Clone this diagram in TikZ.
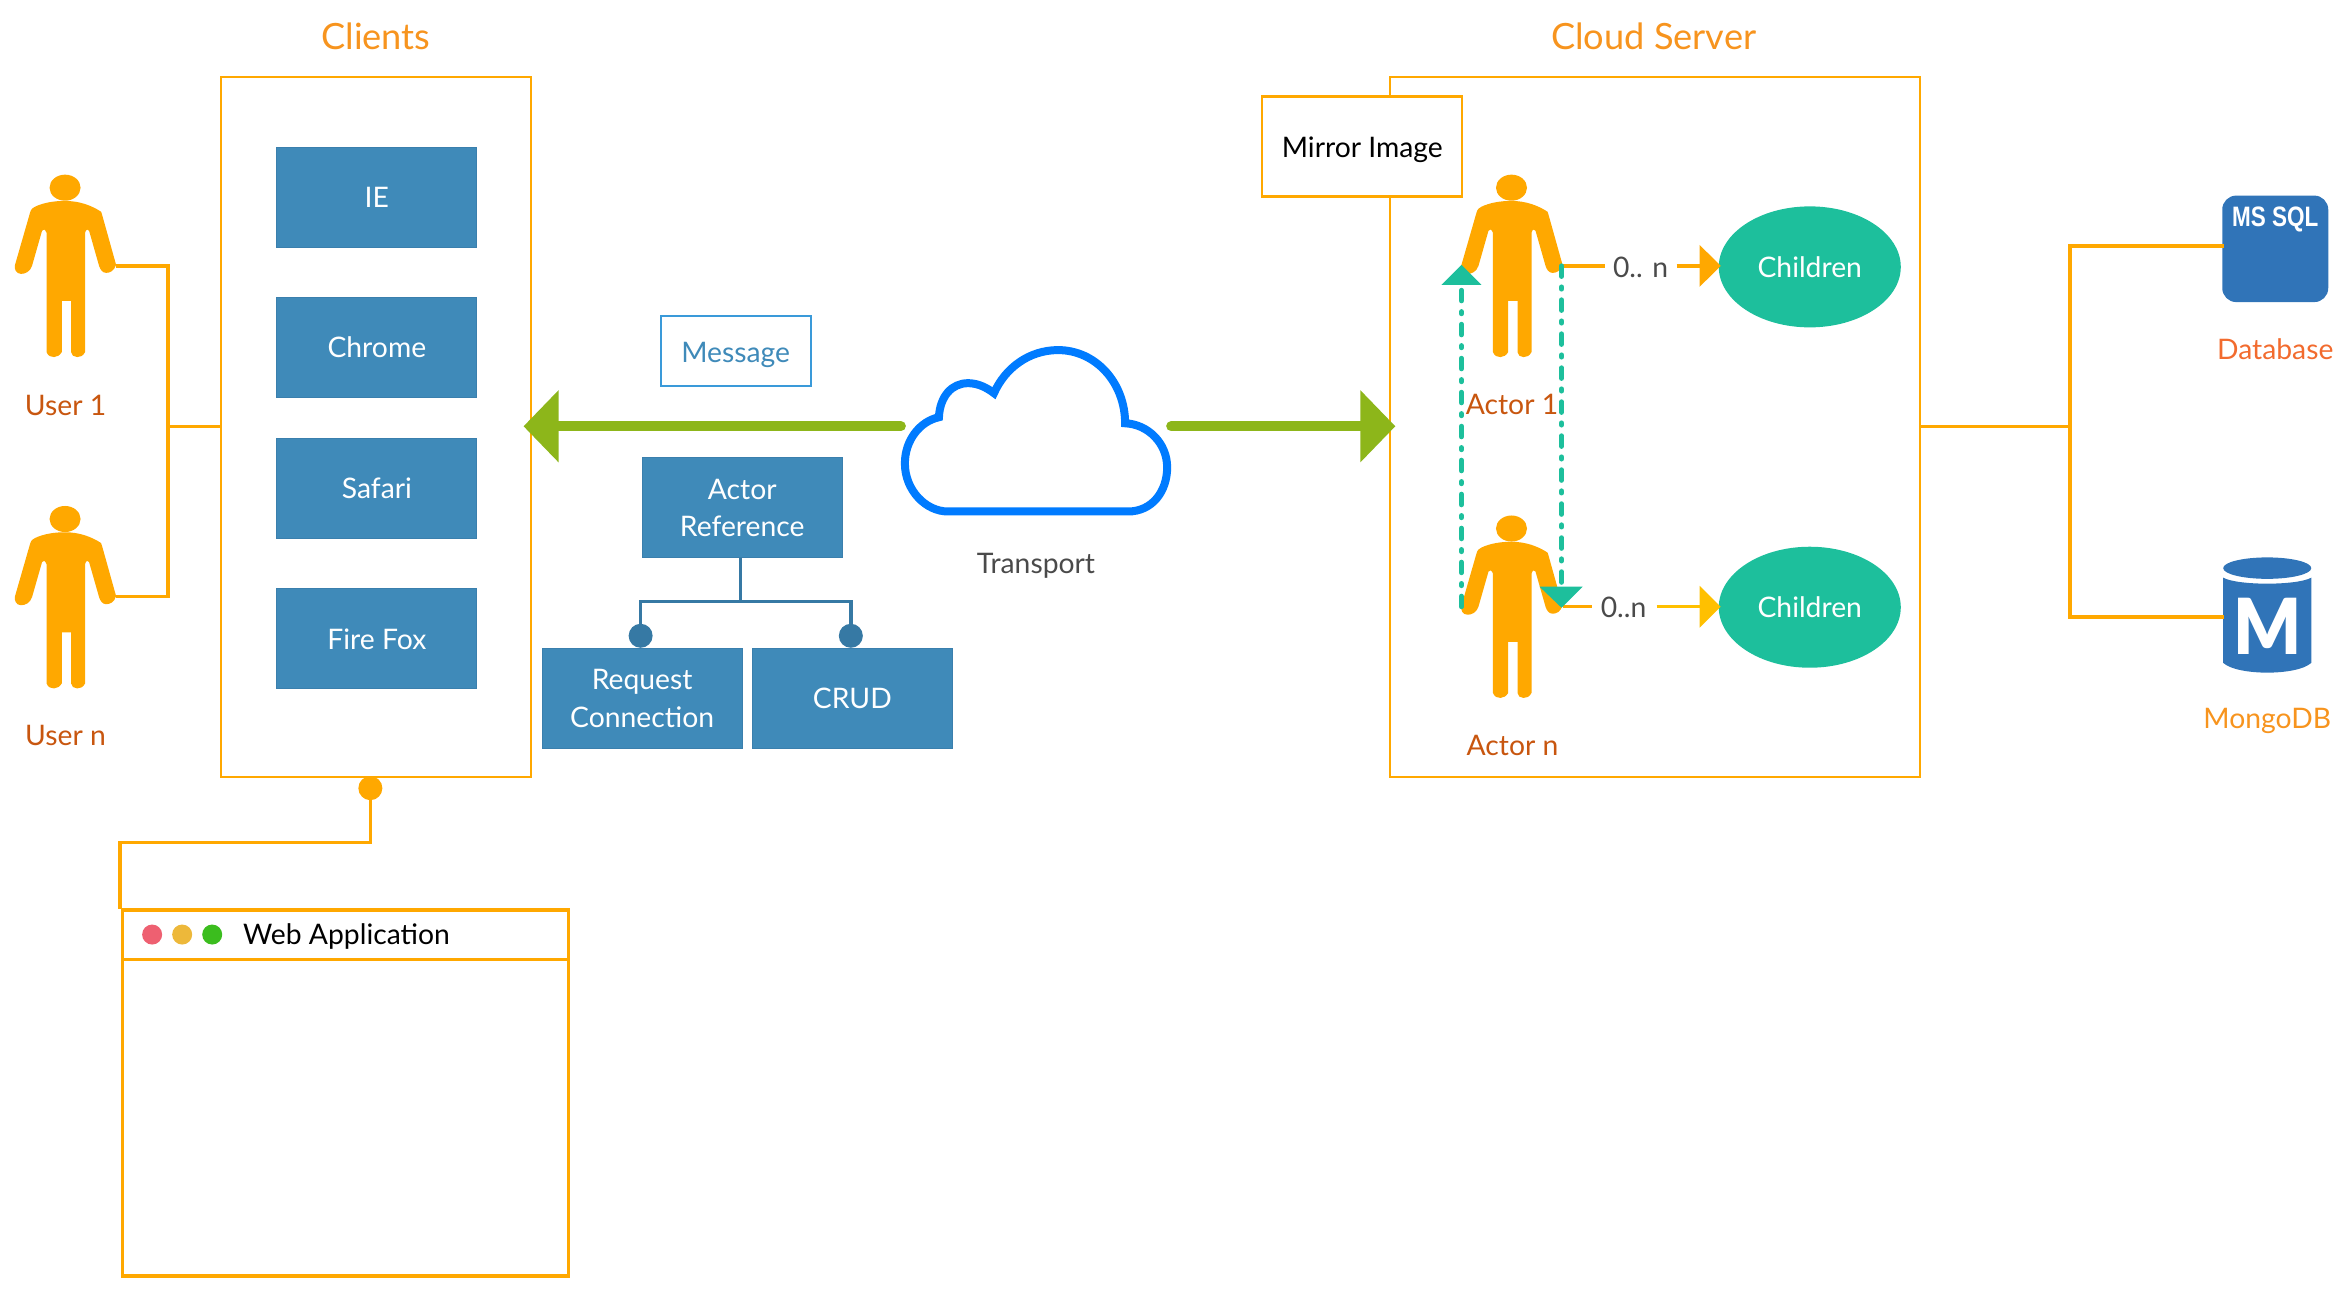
\documentclass[tikz,border=0pt]{standalone}
\usepackage{fontspec}
\setmainfont{Lato}
\usetikzlibrary{shapes.geometric,arrows.meta}
\definecolor{orangeline}{HTML}{FFA800}
\definecolor{arrowyellow}{HTML}{FFC000}
\definecolor{titleorange}{HTML}{F7941E}
\definecolor{labelrust}{HTML}{C8560F}
\definecolor{dbred}{HTML}{F26B2E}
\definecolor{boxblue}{HTML}{3F8AB9}
\definecolor{boxedge}{HTML}{3A7FAD}
\definecolor{treeblue}{HTML}{3679A4}
\definecolor{teal1}{HTML}{1DBF9C}
\definecolor{grass}{HTML}{8DB61A}
\definecolor{cloudblue}{HTML}{007BFF}
\definecolor{dbblue}{HTML}{3074B8}
\definecolor{msgblue}{HTML}{3A9AD9}
\definecolor{greytext}{HTML}{4A4A4A}
\definecolor{winred}{HTML}{EE6071}
\definecolor{winyellow}{HTML}{EDB83A}
\definecolor{wingreen}{HTML}{3BBD1E}
\tikzset{
  x=0.010003cm,y=-0.01002cm,
  txt/.style={inner sep=0pt,outer sep=0pt,font=\fontsize{8.05pt}{10.8pt}\selectfont,align=center},
  titletxt/.style={txt,text=titleorange,font=\fontsize{10.3pt}{12pt}\selectfont},
  bluebox/.style={txt,draw=boxedge,line width=0.01cm,fill=boxblue,text=white,minimum width=2cm,minimum height=1cm},
  frame/.style={draw=orangeline,line width=0.022cm},
  thickline/.style={draw=orangeline,line width=0.035cm},
  greenarrow/.style={draw=grass,line width=0.1cm,line cap=round,-{Triangle[length=0.35cm,width=0.7cm,fill=grass]}},
  headarrow/.style={draw=#1,line width=0.035cm,-{Triangle[length=0.21cm,width=0.41cm,fill=#1]}},
  tealdash/.style={draw=teal1,line width=0.05cm,line cap=round,dash pattern=on 3pt off 3pt on 0.6pt off 3.07pt},
  tealhead/.style={fill=teal1,draw=none},
  child/.style={txt,ellipse,fill=teal1,text=white,minimum width=1.82cm,minimum height=1.21cm},
  ulabel/.style={txt,text=labelrust},
  treeline/.style={draw=treeblue,line width=0.035cm},
  bead/.style={circle,fill=#1,minimum size=0.24cm,inner sep=0pt},
  windot/.style={circle,fill=#1,minimum size=0.2cm,inner sep=0pt},
  person/.pic={
    \fill[orangeline] (0,0) ellipse (15.5 and 13);
    \fill[orangeline] (0,13.3) .. controls (14,13) and (27,18) .. (36,24)
      -- (37,27) -- (51,77)
      .. controls (49,83) and (45,85) .. (41,85)
      .. controls (37,85) and (35,81) .. (34,78)
      -- (24,43) .. controls (23,41) and (21,41) .. (20,45)
      -- (20,164) .. controls (18,168) and (15,169) .. (12,169)
      .. controls (9,169) and (6,167) .. (6,164)
      -- (6,113) -- (-3.3,113) -- (-3.3,164)
      .. controls (-5,167) and (-8,169) .. (-11,169)
      .. controls (-14,169) and (-17,168) .. (-18.5,164)
      -- (-18.5,45) .. controls (-20,41) and (-22,41) .. (-23,43)
      -- (-33,78) .. controls (-35,84) and (-40,86) .. (-44,86)
      .. controls (-49,86) and (-51,81) .. (-50,77)
      -- (-35,25) .. controls (-34,21) and (-32,20) .. (-30,19)
      .. controls (-22,15) and (-10,13) .. (0,13.3) -- cycle;
  }
}
\begin{document}
\begin{tikzpicture}
\useasboundingbox (0cm,-0.008cm) rectangle (23.45cm,-12.898cm);
% containers
\node[frame,minimum width=3.1cm,minimum height=7cm,inner sep=0pt,outer sep=0pt] (clients) at (376,427) {};
\node[frame,minimum width=5.3cm,minimum height=7cm,inner sep=0pt,outer sep=0pt] (cloudsrv) at (1653,427) {};
\node[titletxt] (tclients) at (375.5,37) {Clients};
\node[titletxt] (tcloud) at (1652,37) {Cloud Server};
% client boxes
\node[bluebox] (ie) at (376.5,197.5) {IE};
\node[bluebox] (chrome) at (376.5,347.5) {Chrome};
\node[bluebox] (safari) at (376.5,488) {Safari};
\node[bluebox] (firefox) at (376.5,638) {Fire Fox};
% mirror image
\node[txt,frame,fill=white,text=black,minimum width=2cm,minimum height=1cm] (mirrorbox) at (1361,147) {};
\node[txt,text=black] (mirror) at (1361,150) {Mirror Image};
% users
\pic at (65,188) {person};
\pic at (65,518.5) {person};
\coordinate (u1hand) at (116,266);
\coordinate (unhand) at (116,596);
\coordinate (ubus) at (168,426);
\node[ulabel] (u1) at (65.5,405) {User 1};
\node[ulabel] (un) at (65.5,734) {User n};
\draw[thickline] (u1hand) -| (ubus) |- (unhand);
\draw[thickline] (ubus) -- (clients.west |- ubus);
% actors
\pic at (1510,188) {person};
\pic at (1510,528) {person};
\node[ulabel] (a1) at (1510.5,404.5) {Actor 1};
\node[ulabel] (an) at (1511,744) {Actor n};
\coordinate (a1hand) at (1561,266);
\coordinate (anhand) at (1561,606);
\coordinate (a1left) at (1460,285);
\coordinate (anleft) at (1460,606);
\coordinate (a1right) at (1560,266);
\coordinate (anright) at (1560,586);
% children
\node[child] (c1) at (1808,267) {Children};
\node[child] (c2) at (1808,606.5) {Children};
\node[txt,text=greytext] (m1) at (1639,267) {0.. n};
\node[txt,text=greytext] (m2) at (1622,606.5) {0..n};
\coordinate (m1l) at (1603,266);
\coordinate (m1r) at (1675,266);
\coordinate (m2l) at (1590,606);
\coordinate (m2r) at (1655,606);
\coordinate (c1tip) at (1719,266);
\coordinate (c2tip) at (1719,606);
\draw[thickline] (a1hand) -- (m1l);
\draw[headarrow=orangeline] (m1r) -- (c1tip);
\draw[thickline] (anhand) -- (m2l);
\draw[headarrow=arrowyellow] (m2r) -- (c2tip);
% dashed teal
\draw[tealdash] (anleft) -- (a1left);
\draw[tealdash] (a1right) -- (anright);
\fill[tealhead] (1460,265) -- (1480,285) -- (1440,285) -- cycle;
\fill[tealhead] (1560,607) -- (1581,586) -- (1538,586) -- cycle;
% cloud
\draw[draw=cloudblue,fill=white,line width=0.08cm,miter limit=4] (947,511) -- (1127,511)
  .. controls (1151,511) and (1166,491) .. (1166,467)
  .. controls (1166,443) and (1147,424) .. (1124,423)
  .. controls (1124,383) and (1095,350) .. (1057,350)
  .. controls (1028,350) and (1004,368) .. (993,393)
  .. controls (984,386) and (975,383) .. (967,383)
  .. controls (951,383) and (939,396) .. (938,417)
  .. controls (919,421) and (904,440) .. (904,463)
  .. controls (904,490) and (925,511) .. (947,511) -- cycle;
\coordinate (cloudl) at (900,426);
\coordinate (cloudr) at (1170,426);
\coordinate (tipl) at (523,426);
\coordinate (tipr) at (1394,426);
\draw[greenarrow] (cloudl) -- (tipl);
\draw[greenarrow] (cloudr) -- (tipr);
\node[txt,text=greytext] (transport) at (1035,565) {Transport};
% message
\node[txt,draw=msgblue,line width=0.02cm,minimum width=1.5cm,minimum height=0.7cm] (msgbox) at (735,351) {};
\node[txt,text=boxblue] (msg) at (735,355) {Message};
% actor ref tree
\node[bluebox] (aref) at (741.5,507.5) {Actor\\Reference};
\node[bluebox] (req) at (641.5,697.5) {Request\\Connection};
\node[bluebox] (crud) at (851.5,697.5) {CRUD};
\coordinate (tree) at (740,601);
\node[bead=treeblue] (d1) at (640,635) {};
\node[bead=treeblue] (d2) at (850,635) {};
\draw[treeline] (aref.south -| tree) -- (tree);
\draw[treeline] (d1.center) |- (tree) -| (d2.center);
% web app
\node[bead=orangeline] (dot) at (370,787) {};
\coordinate (bend) at (120,841);
\coordinate (wintop) at (120,908);
\draw[thickline] (dot.center) |- (bend) -- (wintop);
\node[thickline,fill=white,minimum width=4.46cm,minimum height=3.66cm,inner sep=0pt,outer sep=0pt] (win) at (345,1091) {};
\coordinate (barl) at (122,958);
\coordinate (barr) at (568,958);
\draw[thickline] (barl) -- (barr);
\node[windot=winred] (w1) at (152,933) {};
\node[windot=winyellow] (w2) at (182,933) {};
\node[windot=wingreen] (w3) at (212,933) {};
\node[txt,anchor=west,text=black] (wt) at (243,935) {Web Application};
% databases
\node[fill=dbblue,rounded corners=0.14cm,minimum width=1.06cm,minimum height=1.065cm,inner sep=0pt,outer sep=0pt] (mssql) at (2273,249) {};
\node[text=white,inner sep=0pt] (mssqlt) at (2273,220) {\fontsize{8pt}{9pt}\selectfont\scalebox{.8}[1]{\fontspec{Liberation Sans}\bfseries MS SQL}};
\node[txt,text=dbred] (dbl) at (2273,349.5) {Database};
\fill[dbblue] (2265,567.5) ellipse (44 and 10.7);
\fill[dbblue] (2221,577) .. controls (2235,585) and (2295,585) .. (2309,577) -- (2309,662)
  .. controls (2295,675) and (2235,675) .. (2221,662) -- cycle;
\node[inner sep=0pt,text=white] (mm) at (2265,626) {\scalebox{.92}[1]{\fontsize{22pt}{23pt}\selectfont\fontspec{Lato Black}M}};
\node[txt,text=titleorange] (mgl) at (2265,720) {MongoDB};
\coordinate (rbus) at (2068,426);
\coordinate (dbtop) at (2222,246);
\coordinate (dbbot) at (2222,616);
\draw[thickline] (cloudsrv.east |- rbus) -- (rbus);
\draw[thickline] (dbtop) -| (rbus) |- (dbbot);
\end{tikzpicture}
\end{document}
